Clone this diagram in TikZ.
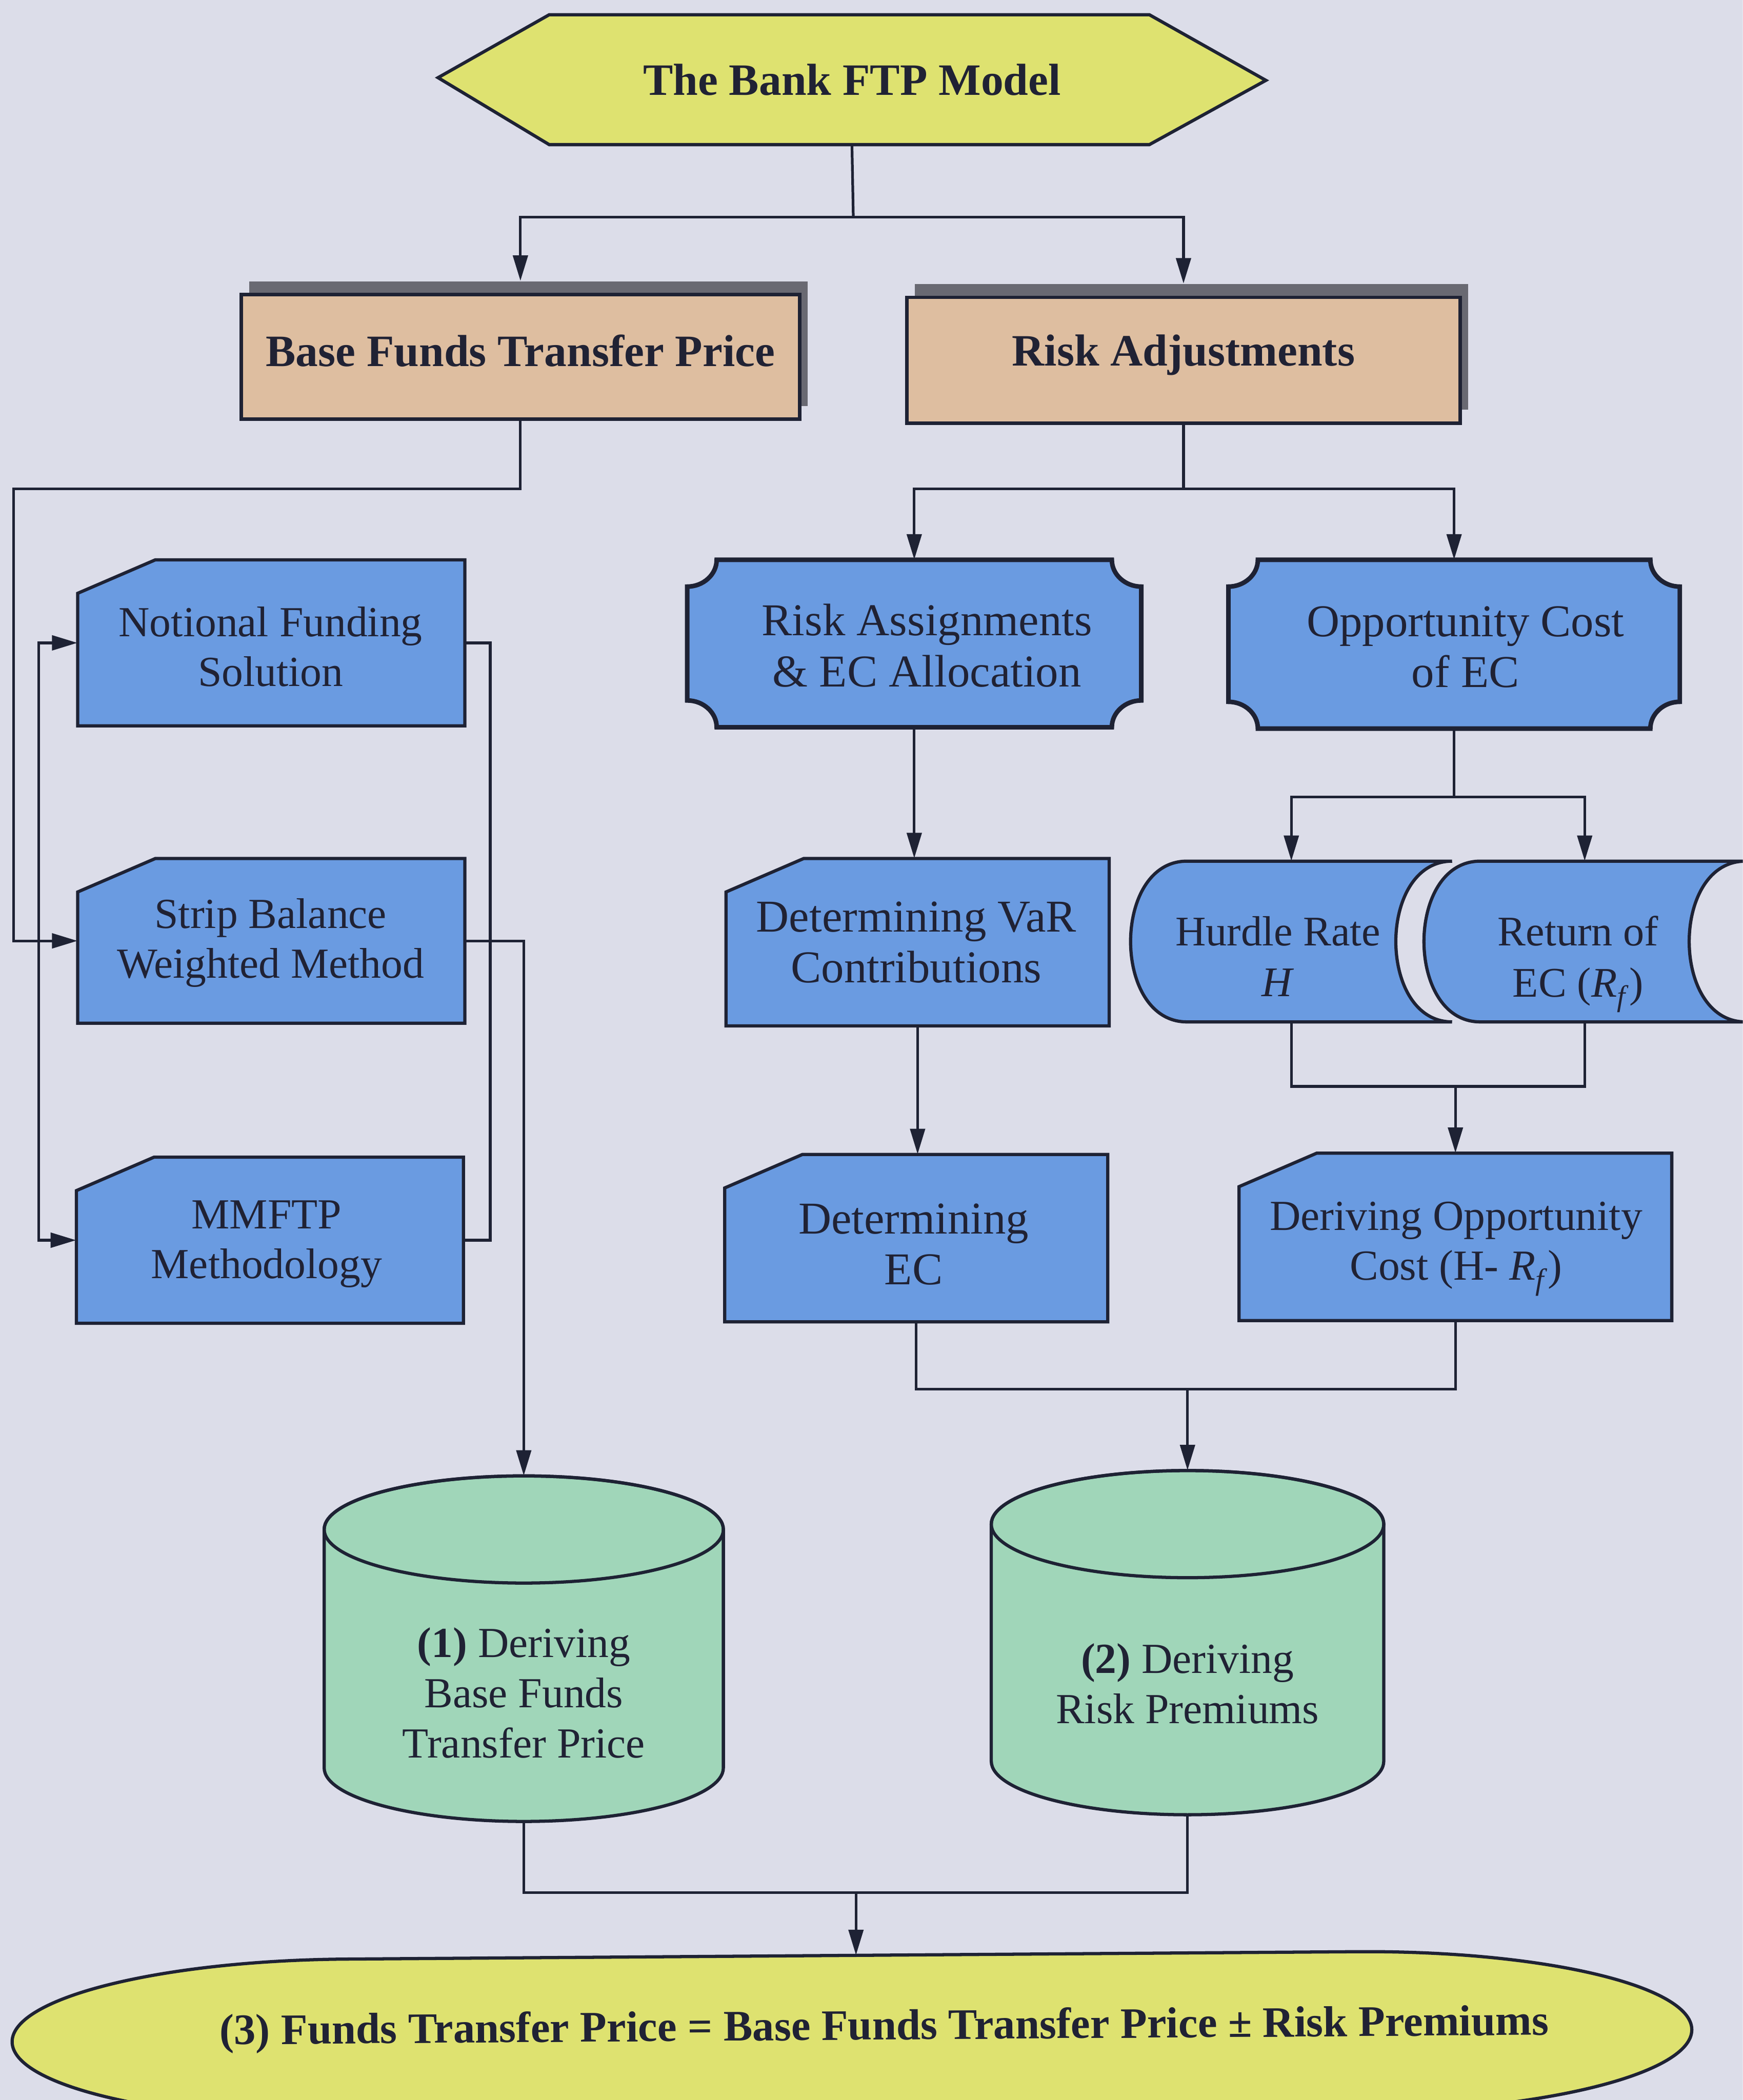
\documentclass[tikz,border=0pt]{standalone}
\usepackage{fontspec}
\setmainfont{Liberation Serif}
\usetikzlibrary{arrows.meta,shadows}
\definecolor{bgc}{RGB}{220,221,233}
\definecolor{linec}{RGB}{30,34,52}
\definecolor{textc}{RGB}{32,34,52}
\definecolor{bluec}{RGB}{106,155,225}
\definecolor{tanc}{RGB}{222,190,160}
\definecolor{yellowc}{RGB}{222,226,112}
\definecolor{greenc}{RGB}{160,214,185}
\definecolor{shadowc}{RGB}{105,105,114}

% card box with a cut top-left corner: left, top, right, bottom
\newcommand{\cardshape}[4]{\filldraw[boxline, fill=bluec] (#1,#2+25) -- (#1+58,#2) -- (#3,#2) -- (#3,#4) -- (#1,#4) -- cycle;}
% box with four concave corners
\newcommand{\notchshape}[4]{\filldraw[notchline, fill=bluec]
  (#1+22,#2) -- (#3-22,#2) .. controls (#3-22,#2+11) and (#3-12,#2+20) .. (#3,#2+20)
  -- (#3,#4-20) .. controls (#3-12,#4-20) and (#3-22,#4-11) .. (#3-22,#4)
  -- (#1+22,#4) .. controls (#1+22,#4-11) and (#1+12,#4-20) .. (#1,#4-20)
  -- (#1,#2+20) .. controls (#1+12,#2+20) and (#1+22,#2+11) .. (#1+22,#2) -- cycle;}
% stored-data shape: convex left side, concave right side
\newcommand{\storeshape}[4]{\filldraw[boxline, fill=bluec]
  (#1+42,#2) -- (#3,#2) .. controls (#3-56,#2) and (#3-56,#4) .. (#3,#4)
  -- (#1+42,#4) .. controls (#1-14,#4) and (#1-14,#2) .. (#1+42,#2) -- cycle;}
% cylinder: centre x, x radius, top, bottom
\newcommand{\cylshape}[4]{\filldraw[boxline, fill=greenc]
  ({#1-#2},{#3+40}) -- ({#1-#2},{#4-40}) arc[start angle=180, end angle=0, x radius=#2, y radius=40]
  -- ({#1+#2},{#3+40}) arc[start angle=0, end angle=-180, x radius=#2, y radius=40] -- cycle;
  \draw[boxline] (#1,#3+40) ellipse[x radius=#2, y radius=40];}

\begin{document}
\begin{tikzpicture}[x=1pt,y=-1pt,
  link/.style={draw=linec, line width=2pt},
  arr/.style={link, -{Triangle[length=19pt,width=11pt]}},
  twoway/.style={link, {Triangle[length=19pt,width=11pt]}-{Triangle[length=19pt,width=11pt]}},
  boxline/.style={draw=linec, line width=2.4pt},
  notchline/.style={draw=linec, line width=3.4pt},
  frame/.style={inner sep=0pt, align=center, text=textc},
  bodytext/.style={font=\fontsize{32}{37}\selectfont},
  bigtext/.style={font=\fontsize{34}{38}\selectfont},
  headtext/.style={font=\bfseries\fontsize{33.5}{38}\selectfont},
  tanbox/.style={frame, draw=linec, line width=2.6pt, fill=tanc,
    drop shadow={shadow xshift=6pt, shadow yshift=10pt, fill=shadowc, opacity=1}},
]
\useasboundingbox (0,0) rectangle (1301,1568);
\clip (0,0) rectangle (1301,1568);
\fill[bgc] (0,0) rectangle (1301,1568);

% ---- title ----
\filldraw[boxline, fill=yellowc] (327,58) -- (410,11) -- (858,11) -- (945,60) -- (858,108) -- (410,108) -- cycle;
\node[frame, headtext, minimum width=618pt, minimum height=97pt] (top) at (636,59.5) {The Bank FTP Model};

% ---- second row ----
\node[tanbox, minimum width=417pt, minimum height=93pt] (base) at (388.5,266.5) {};
\node[frame, headtext] (basetxt) at (388.5,262) {Base Funds Transfer Price};
\node[tanbox, minimum width=413pt, minimum height=94pt] (risk) at (883.5,269) {};
\node[frame, headtext] (risktxt) at (883.5,265) {Risk Adjustments};

% ---- base funds branch ----
\cardshape{58}{418}{347}{542}
\node[frame, minimum width=289pt, minimum height=124pt] (notional) at (202.5,480) {};
\node[frame, bodytext] (notionaltxt) at (202,483) {Notional Funding\\Solution};
\cardshape{58}{641}{347}{764}
\node[frame, minimum width=289pt, minimum height=123pt] (strip) at (202.5,702.5) {};
\node[frame, bodytext] (striptxt) at (202,704) {Strip Balance\\Weighted Method};
\cardshape{57}{864}{346}{988}
\node[frame, minimum width=289pt, minimum height=124pt] (mmftp) at (201.5,926) {};
\node[frame, bodytext] (mmftptxt) at (199,929) {MMFTP\\Methodology};

% ---- risk branch ----
\notchshape{513}{418}{852}{543}
\node[frame, minimum width=339pt, minimum height=125pt] (assign) at (682.5,480.5) {};
\node[frame, bigtext] (assigntxt) at (692,482) {Risk Assignments\\\& EC Allocation};
\notchshape{917}{418}{1254}{544}
\node[frame, minimum width=337pt, minimum height=126pt] (opp) at (1085.5,481) {};
\node[frame, bigtext] (opptxt) at (1094,483) {Opportunity Cost\\of EC};
\cardshape{542}{641}{828}{766}
\node[frame, minimum width=286pt, minimum height=125pt] (var) at (685,703.5) {};
\node[frame, bigtext] (vartxt) at (684,703.5) {Determining VaR\\Contributions};
\cardshape{541}{862}{827}{987}
\node[frame, minimum width=286pt, minimum height=125pt] (ec) at (684,924.5) {};
\node[frame, bigtext] (ectxt) at (682,929) {Determining\\EC};
\storeshape{844}{643}{1084}{763}
\node[frame, minimum width=240pt, minimum height=120pt] (hurdle) at (964,703) {};
\node[frame, font=\fontsize{31.5}{38}\selectfont] (hurdletxt) at (954,714) {Hurdle Rate\\\textit{H}};
\storeshape{1063}{643}{1303}{763}
\node[frame, minimum width=240pt, minimum height=120pt] (ret) at (1183,703) {};
\node[frame, font=\fontsize{31.5}{38}\selectfont] (rettxt) at (1178,720) {Return of\\EC (\textit{R}\textsubscript{\textit{f}})};
\cardshape{925}{861}{1248}{986}
\node[frame, minimum width=323pt, minimum height=125pt] (deriv) at (1086.5,923.5) {};
\node[frame, bodytext] (derivtxt) at (1087,932.5) {Deriving Opportunity\\Cost (H- \textit{R}\textsubscript{\textit{f}})};

% ---- cylinders ----
\cylshape{391}{149}{1102}{1360}
\node[frame, minimum width=298pt, minimum height=258pt] (cyl1) at (391,1231) {};
\node[frame, font=\fontsize{32}{37.5}\selectfont] (cyl1txt) at (391,1264) {\textbf{(1)} Deriving\\Base Funds\\Transfer Price};
\cylshape{886.5}{146.5}{1098}{1355}
\node[frame, minimum width=293pt, minimum height=257pt] (cyl2) at (886.5,1226.5) {};
\node[frame, font=\fontsize{32}{37.5}\selectfont] (cyl2txt) at (886.5,1257) {\textbf{(2)} Deriving\\Risk Premiums};

% ---- result ----
\filldraw[boxline, fill=yellowc, rotate around={0.42:(636,1520)}]
  (9,1520) .. controls (9,1487) and (121,1460) .. (259,1460) -- (1013,1460)
  .. controls (1151,1460) and (1263,1487) .. (1263,1520)
  .. controls (1263,1553) and (1151,1580) .. (1013,1580) -- (259,1580)
  .. controls (121,1580) and (9,1553) .. (9,1520) -- cycle;
\node[frame, minimum width=1254pt, minimum height=120pt, rotate=0.42] (final) at (636,1520) {};
\node[frame, font=\bfseries\fontsize{32.5}{38}\selectfont, rotate=0.42] (finaltxt) at (660,1515)
  {(3) Funds Transfer Price = Base Funds Transfer Price \textpm{} Risk Premiums};

% ---- connectors ----
\coordinate (j0) at (637,162);
\draw[link] (top.south) -- (j0);
\draw[arr, shorten >=9pt] (j0) -| (base.north);
\draw[arr, shorten >=9pt] (j0) -| (risk.north);

\draw[arr] (base.south) |- (10,365) |- (strip.west);
\draw[twoway] (notional.west) -| (29,700) |- (mmftp.west);
\draw[link] (notional.east) -| (366,700) |- (mmftp.east);
\draw[arr] (strip.east) -| (cyl1.north);

\coordinate (j1) at (883.5,365);
\draw[link] (risk.south) -- (j1);
\draw[arr] (j1) -| (assign.north);
\draw[arr] (j1) -| (opp.north);
\draw[arr] (assign.south) -- (assign.south |- var.north);
\draw[arr] (var.south) -- (var.south |- ec.north);

\coordinate (j2) at (1085.5,595);
\draw[link] (opp.south) -- (j2);
\draw[arr] (j2) -| (hurdle.north);
\draw[arr] (j2) -| (ret.north);
\draw[link] (hurdle.south) -- ++(0,48) -| (ret.south);
\coordinate (j4) at (1086.5,811);
\draw[arr] (j4) -- (deriv.north);

\draw[link] (ec.south) -- ++(0,50) -| (deriv.south);
\coordinate (j5) at (886.5,1037);
\draw[arr] (j5) -- (cyl2.north);

\draw[link] (cyl1.south) -- ++(0,53) -| (cyl2.south);
\coordinate (j3) at (639,1413);
\draw[arr] (j3) -- (j3 |- final.north);
\end{tikzpicture}
\end{document}
